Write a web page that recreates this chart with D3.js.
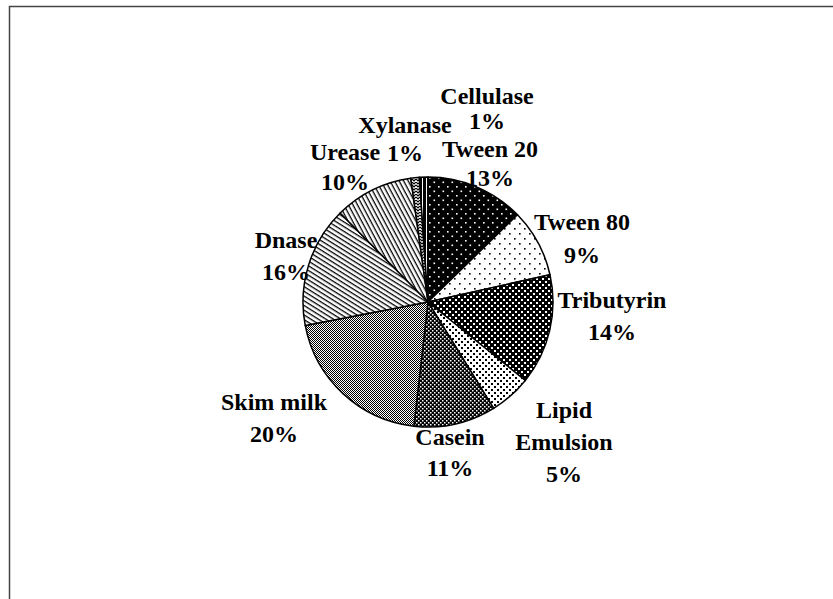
<!DOCTYPE html>
<html>
<head>
<meta charset="utf-8">
<script src="https://cdn.jsdelivr.net/npm/d3@7"></script>
<style>
  html, body { margin: 0; padding: 0; background: #fff; }
  svg { display: block; }
  text { font-family: "Liberation Serif", "Times New Roman", serif; font-weight: bold; font-size: 24px; fill: #000; }
</style>
</head>
<body>
<svg id="chart" width="833" height="599"></svg>
<script>
// ---- data ----
const categories = ["Tween 20", "Tween 80", "Tributyrin", "Lipid Emulsion", "Casein",
                    "Skim milk", "Dnase", "Urease", "Xylanase", "Cellulase"];
const values = [12.7, 8.8, 14.3, 5.4, 10.6, 20.2, 15.6, 10.2, 1.1, 1.1];
const labelLines = [["Tween 20"], ["Tween 80"], ["Tributyrin"], ["Lipid", "Emulsion"], ["Casein"],
                    ["Skim milk"], ["Dnase"], ["Urease"], ["Xylanase"], ["Cellulase"]];

// ---- layout: label block centre x, first baseline (relative to pie centre), line height ----
const labelLayout = [[62, -145, 29], [154, -72, 33], [184, 6, 32], [136, 116, 32], [22, 143, 31],
                     [-154, 108, 32], [-142, -54, 32], [-83, -142, 30], [-23, -169, 28], [59, -198, 25]];
const cx = 428, cy = 302, R = 125;

const svg = d3.select("#chart");
const defs = svg.append("defs");

function pat(id, w, h, bg, draw, transform) {
  const p = defs.append("pattern").attr("id", id).attr("patternUnits", "userSpaceOnUse")
    .attr("width", w).attr("height", h);
  if (transform) p.attr("patternTransform", transform);
  p.append("rect").attr("width", w).attr("height", h).attr("fill", bg);
  draw(p);
}
const sq = (p, x, y, s, c) => p.append("rect").attr("x", x).attr("y", y).attr("width", s).attr("height", s).attr("fill", c);

pat("p0", 9, 9, "#000", p => { sq(p, 1, 1, 1.6, "#fff"); sq(p, 5.5, 5.5, 1.6, "#fff"); });
pat("p1", 10, 10, "#fff", p => { sq(p, 1, 1, 1.6, "#000"); sq(p, 6, 6, 1.6, "#000"); });
pat("p2", 6, 6, "#000", p => { sq(p, 0, 0, 2, "#fff"); sq(p, 3, 3, 2, "#fff"); });
pat("p3", 6, 6, "#fff", p => { sq(p, 0, 0, 2, "#000"); sq(p, 3, 3, 2, "#000"); });
pat("p4", 4, 4, "#000", p => { sq(p, 0, 0, 1.5, "#fff"); sq(p, 2, 2, 1.5, "#fff"); });
pat("p5", 2, 2, "#fff", p => { sq(p, 0, 0, 1, "#000"); sq(p, 1, 1, 1, "#000"); });
pat("p6", 4, 4, "#fff", p => { p.append("rect").attr("y", 0).attr("width", 4).attr("height", 1.3).attr("fill", "#000"); }, "rotate(32)");
pat("p7", 4, 4, "#fff", p => { p.append("rect").attr("y", 0).attr("width", 4).attr("height", 1.3).attr("fill", "#000"); }, "rotate(62)");
pat("p8", 4, 6, "#fff", p => { p.append("path").attr("d", "M0,0 L2,2 L4,0 M0,3 L2,5 L4,3").attr("stroke", "#000").attr("stroke-width", 1.2).attr("fill", "none"); });
pat("p9", 4, 4, "#000", p => { p.append("rect").attr("x", 2).attr("width", 1).attr("height", 4).attr("fill", "#fff"); });

// frame
svg.append("rect").attr("x", 9.5).attr("y", 6.5).attr("width", 900).attr("height", 700)
  .attr("fill", "none").attr("stroke", "#444").attr("stroke-width", 1.5);

const pie = d3.pie().sort(null).value(d => d);
const arcs = pie(values);
const total = d3.sum(values);
const arc = d3.arc().innerRadius(0).outerRadius(R);

const g = svg.append("g").attr("transform", `translate(${cx},${cy})`);
g.selectAll("path.slice").data(arcs).join("path")
  .attr("class", "slice")
  .attr("d", arc)
  .attr("fill", (d, i) => `url(#p${i})`)
  .attr("stroke", "#000").attr("stroke-width", 1.5).attr("stroke-linejoin", "round");

const lab = g.selectAll("text.lab").data(arcs).join("text")
  .attr("class", "lab")
  .attr("text-anchor", "middle");
lab.each(function(d, i) {
  const t = d3.select(this);
  const [lx, ly, lh] = labelLayout[i];
  const lines = labelLines[i].concat([Math.round(d.value / total * 100) + "%"]);
  lines.forEach((s, k) => {
    t.append("tspan").attr("x", lx).attr("y", ly + k * lh).text(s);
  });
});
</script>
</body>
</html>
